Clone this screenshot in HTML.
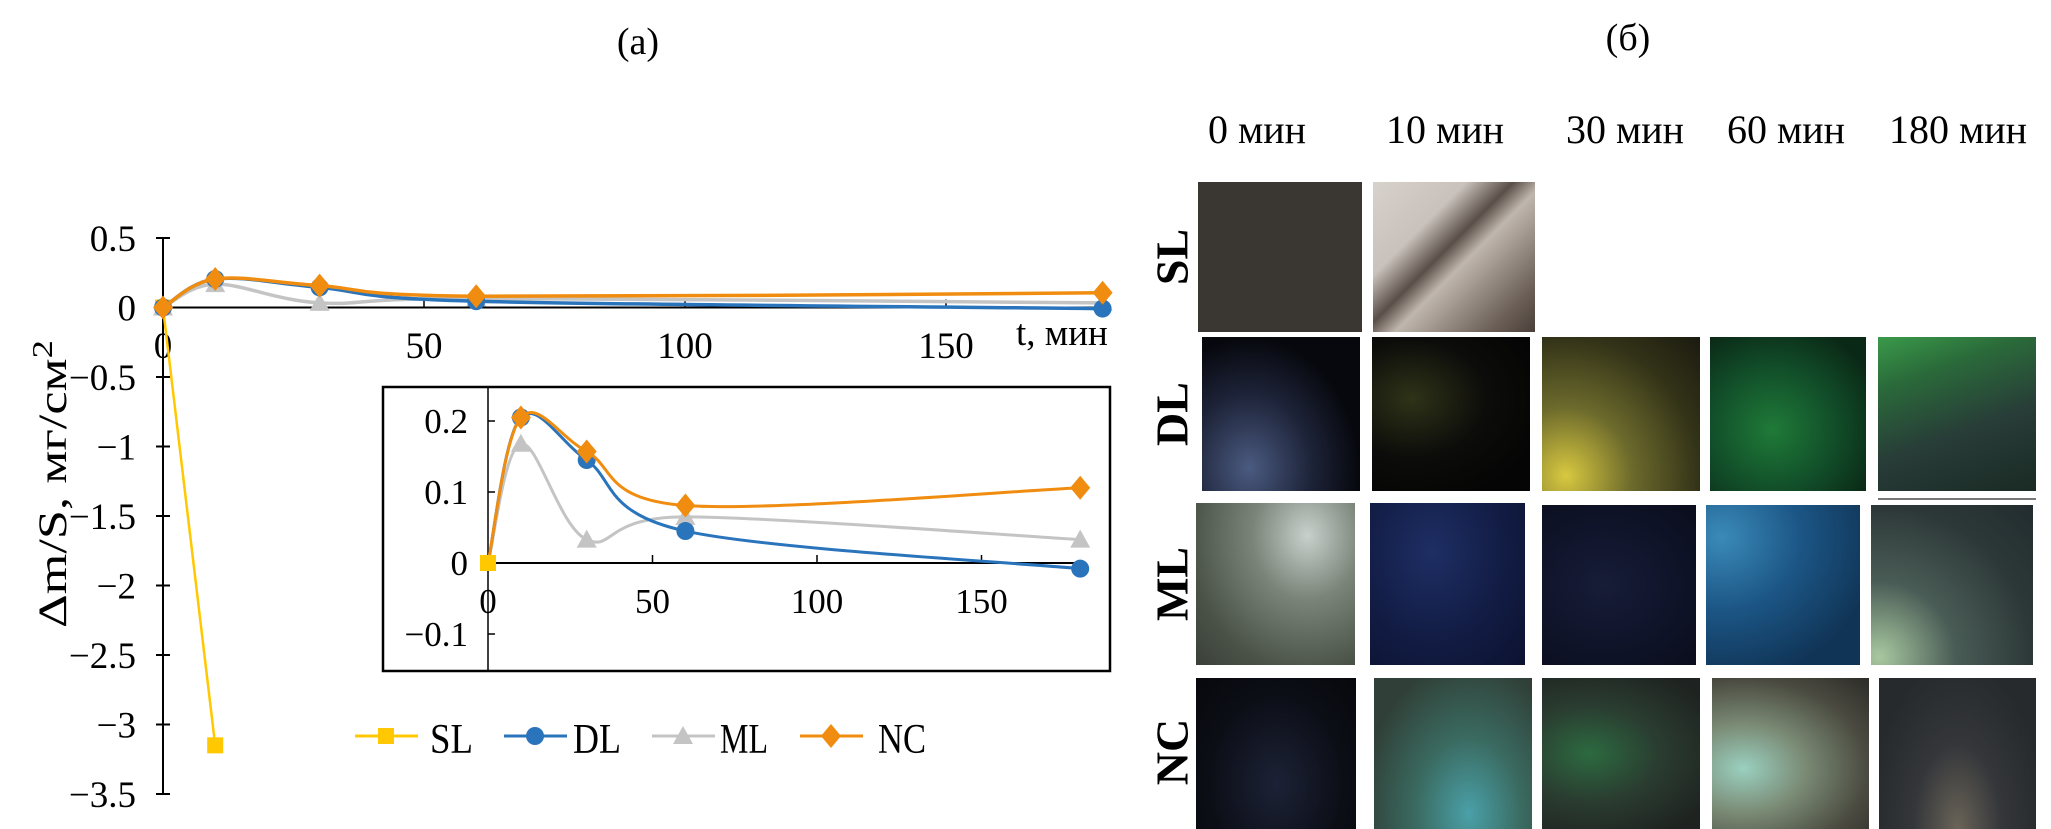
<!DOCTYPE html>
<html><head><meta charset="utf-8">
<style>
html,body{margin:0;padding:0;background:#fff;}
body{width:2051px;height:829px;position:relative;overflow:hidden;font-family:"Liberation Serif","DejaVu Serif",serif;}
.ph{position:absolute;}
.lbl{position:absolute;font-size:40px;color:#000;white-space:nowrap;transform:translateX(-50%);}
.rl{position:absolute;font-size:46px;font-weight:bold;transform:translate(-50%,-50%) rotate(-90deg);}
</style></head><body>
<svg id="chart" width="1150" height="829" style="position:absolute;left:0;top:0" xmlns="http://www.w3.org/2000/svg" font-family="Liberation Serif, serif"></svg>

<div class="lbl" style="left:1628px;top:16px;font-size:38px">(б)</div>
<div class="lbl" style="left:1257px;top:106px">0 мин</div>
<div class="lbl" style="left:1445px;top:106px">10 мин</div>
<div class="lbl" style="left:1625px;top:106px">30 мин</div>
<div class="lbl" style="left:1786px;top:106px">60 мин</div>
<div class="lbl" style="left:1958px;top:106px">180 мин</div>

<div class="rl" style="left:1172px;top:257px">SL</div>
<div class="rl" style="left:1172px;top:414px">DL</div>
<div class="rl" style="left:1172px;top:584px">ML</div>
<div class="rl" style="left:1172px;top:752px">NC</div>

<div class="ph" style="left:1198px;top:182px;width:164px;height:150px;background:#3a3733"></div>
<div class="ph" style="left:1373px;top:182px;width:162px;height:150px;background:linear-gradient(135deg,#d8d2cc 0%,#c9c1bb 30%,#5a4f48 45%,#bfb6ae 55%,#6b5f57 85%,#4a3f39 100%)"></div>

<div class="ph" style="left:1202px;top:337px;width:158px;height:154px;background:radial-gradient(ellipse at 30% 85%,#4a5a80 0%,#1d2338 40%,#07080e 70%)"></div>
<div class="ph" style="left:1372px;top:337px;width:158px;height:154px;background:radial-gradient(ellipse at 25% 40%,#2f3318 0%,#0c0c0a 45%,#050505 80%)"></div>
<div class="ph" style="left:1542px;top:337px;width:158px;height:154px;background:radial-gradient(ellipse at 15% 90%,#d8c840 0%,#6c6a2c 35%,#333318 70%,#1b1a10 100%)"></div>
<div class="ph" style="left:1710px;top:337px;width:156px;height:154px;background:radial-gradient(ellipse at 40% 60%,#1f7a38 0%,#12502a 45%,#0a2816 85%)"></div>
<div class="ph" style="left:1878px;top:337px;width:158px;height:154px;background:linear-gradient(160deg,#3a9a4a 0%,#2a6a3a 25%,#283c38 60%,#1a2a24 100%)"></div>
<div class="ph" style="left:1878px;top:498px;width:158px;height:2px;background:#777"></div>

<div class="ph" style="left:1196px;top:503px;width:159px;height:162px;background:radial-gradient(ellipse at 70% 20%,#c8d0cc 0%,#7a8478 35%,#4a5248 75%,#3a4038 100%)"></div>
<div class="ph" style="left:1370px;top:503px;width:155px;height:162px;background:radial-gradient(ellipse at 40% 30%,#1e2e64 0%,#121c44 55%,#0c1230 100%)"></div>
<div class="ph" style="left:1542px;top:505px;width:154px;height:160px;background:radial-gradient(ellipse at 40% 50%,#171c38 0%,#0f1328 60%,#0a0d1c 100%)"></div>
<div class="ph" style="left:1706px;top:505px;width:154px;height:160px;background:radial-gradient(ellipse at 10% 20%,#3a8ab8 0%,#1c5686 40%,#103456 80%)"></div>
<div class="ph" style="left:1871px;top:505px;width:162px;height:160px;background:radial-gradient(ellipse at 5% 95%,#a8c8a0 0%,#4a5c56 35%,#2c3838 70%,#222c2e 100%)"></div>

<div class="ph" style="left:1196px;top:678px;width:160px;height:151px;background:radial-gradient(ellipse at 50% 70%,#1c2236 0%,#0c0e16 60%,#07080c 100%)"></div>
<div class="ph" style="left:1374px;top:678px;width:158px;height:151px;background:radial-gradient(ellipse at 60% 90%,#4aa0a8 0%,#3a6a60 40%,#304038 80%)"></div>
<div class="ph" style="left:1542px;top:678px;width:158px;height:151px;background:radial-gradient(ellipse at 30% 50%,#2c6a40 0%,#2a3c30 45%,#1e2220 90%)"></div>
<div class="ph" style="left:1712px;top:678px;width:157px;height:151px;background:radial-gradient(ellipse at 20% 60%,#9ad0c0 0%,#7a8a74 35%,#4a4a40 70%,#2c2c28 100%)"></div>
<div class="ph" style="left:1879px;top:678px;width:157px;height:151px;background:radial-gradient(ellipse at 50% 100%,#6a6458 0%,#34363a 40%,#262a2c 80%)"></div>

<script>
const times = [0, 10, 30, 60, 180];
const slTimes = [0, 10];
const slValues = [0, -3.15];
const dlValues = [0, 0.205, 0.145, 0.045, -0.008];
const mlValues = [0, 0.168, 0.033, 0.065, 0.033];
const ncValues = [0, 0.205, 0.157, 0.081, 0.106];
const mainYTicks = [0.5, 0, -0.5, -1, -1.5, -2, -2.5, -3, -3.5];
const mainYTickLabels = ["0.5","0","−0.5","−1","−1.5","−2","−2.5","−3","−3.5"];
const xTicks = [0, 50, 100, 150];
const insetYTicks = [0.2, 0.1, 0, -0.1];
const insetYTickLabels = ["0.2","0.1","0","−0.1"];

const svg = document.getElementById('chart');
const NS = 'http://www.w3.org/2000/svg';
function mk(tag, attrs, parent){const e=document.createElementNS(NS,tag);for(const k in attrs)e.setAttribute(k,attrs[k]);(parent||svg).appendChild(e);return e;}

const mx = t => 163 + t * 5.22;
const my = v => 307.5 - v * 139;
const ix = t => 488 + t * 3.29;
const iy = v => 563 - v * 710;

function smooth(pts){
  let d = 'M' + pts[0][0] + ',' + pts[0][1];
  for(let i=0;i<pts.length-1;i++){
    const p0=pts[i-1]||pts[i], p1=pts[i], p2=pts[i+1], p3=pts[i+2]||pts[i+1];
    const c1=[p1[0]+(p2[0]-p0[0])/6, p1[1]+(p2[1]-p0[1])/6];
    const c2=[p2[0]-(p3[0]-p1[0])/6, p2[1]-(p3[1]-p1[1])/6];
    d += ' C'+c1+' '+c2+' '+p2;
  }
  return d;
}
function marker(kind, x, y, color, parent, name){
  let e;
  if(kind==='square') e=mk('rect',{x:x-8,y:y-8,width:16,height:16,fill:color},parent);
  else if(kind==='circle') e=mk('circle',{cx:x,cy:y,r:9,fill:color},parent);
  else if(kind==='triangle') e=mk('polygon',{points:`${x},${y-10} ${x+10},${y+8} ${x-10},${y+8}`,fill:color},parent);
  else e=mk('polygon',{points:`${x},${y-12} ${x+10},${y} ${x},${y+12} ${x-10},${y}`,fill:color},parent);
  
  
  return e;
}

const ttl = mk('text',{x:638,y:54,'font-size':38,'text-anchor':'middle'}); ttl.textContent='(a)';



const ya = mk('line',{x1:163,y1:my(0.5),x2:163,y2:my(-3.5),stroke:'#000','stroke-width':2});


mainYTicks.forEach((v,i)=>{
  mk('line',{x1:156,y1:my(v),x2:170,y2:my(v),stroke:'#000','stroke-width':2});
  const t = mk('text',{x:136,y:my(v)+13,'font-size':37,'text-anchor':'end'});
  t.textContent = mainYTickLabels[i];
  
  
});
const xa = mk('line',{x1:163,y1:my(0),x2:1108,y2:my(0),stroke:'#000','stroke-width':2});


xTicks.forEach(t=>{
  mk('line',{x1:mx(t),y1:my(0)-8,x2:mx(t),y2:my(0),stroke:'#000','stroke-width':1.5});
  const l = mk('text',{x:mx(t),y:358,'font-size':37,'text-anchor':'middle'});
  l.textContent = t;
  
  
});
const xt = mk('text',{x:1016,y:345,'font-size':37}); xt.textContent='t, мин';


const yt = mk('text',{x:0,y:0,'font-size':40,'text-anchor':'middle',transform:'translate(66,484) rotate(-90)',textLength:288,lengthAdjust:'spacingAndGlyphs'});
yt.innerHTML = 'Δm/S, мг/см<tspan dy="-14" font-size="28">2</tspan>';



const series = [
  {name:'sl', t:slTimes, v:slValues, color:'#ffc800', kind:'square'},
  {name:'ml', t:times, v:mlValues, color:'#c4c4c4', kind:'triangle'},
  {name:'dl', t:times, v:dlValues, color:'#2a74bc', kind:'circle'},
  {name:'nc', t:times, v:ncValues, color:'#f08c10', kind:'diamond'}
];
series.forEach(s=>{
  const pts = s.t.map((t,i)=>[mx(t),my(s.v[i])]);
  const p = mk('path',{d: s.name==='sl' ? 'M'+pts.join(' L') : smooth(pts), fill:'none', stroke:s.color,'stroke-width':s.name==='sl'?2.5:3.5});
  
  
  pts.forEach(q=>marker(s.kind,q[0],q[1],s.color,svg,'main-point-'+s.name));
});

// inset
const box = mk('rect',{x:383,y:387,width:727,height:284,fill:'#fff',stroke:'#000','stroke-width':2.5});


const iya = mk('line',{x1:488,y1:387,x2:488,y2:671,stroke:'#000','stroke-width':1.5});


insetYTicks.forEach((v,i)=>{
  mk('line',{x1:488,y1:iy(v),x2:495,y2:iy(v),stroke:'#000','stroke-width':1.5});
  const t = mk('text',{x:468,y:iy(v)+12,'font-size':35,'text-anchor':'end'});
  t.textContent = insetYTickLabels[i];
  
  
});
const ixa = mk('line',{x1:488,y1:iy(0),x2:1085,y2:iy(0),stroke:'#000','stroke-width':2});


xTicks.forEach(t=>{
  mk('line',{x1:ix(t),y1:iy(0)-8,x2:ix(t),y2:iy(0),stroke:'#000','stroke-width':1.5});
  const l = mk('text',{x:ix(t),y:613,'font-size':35,'text-anchor':'middle'});
  l.textContent = t;
  
  
});
series.filter(s=>s.name!=='sl').forEach(s=>{
  const pts = s.t.map((t,i)=>[ix(t),iy(s.v[i])]);
  const p = mk('path',{d:smooth(pts),fill:'none',stroke:s.color,'stroke-width':3});
  
  
  pts.slice(1).forEach(q=>marker(s.kind,q[0],q[1],s.color,svg,'inset-point-'+s.name));
});
marker('square', ix(slTimes[0]), iy(slValues[0]), '#ffc800', svg, 'inset-point-sl');

// legend
const legend = [['SL',355,'#ffc800','square',430],['DL',504,'#2a74bc','circle',573],['ML',652,'#c4c4c4','triangle',720],['NC',800,'#f08c10','diamond',878]];
legend.forEach(l=>{
  const g = mk('g',{});
  
  
  mk('line',{x1:l[1],y1:736,x2:l[1]+63,y2:736,stroke:l[2],'stroke-width':3},g);
  marker(l[3],l[1]+31,736,l[2],g,'legend-marker');
  const t = mk('text',{x:l[4],y:753,'font-size':42,textLength:l[0]==='SL'?43:48,lengthAdjust:'spacingAndGlyphs'},g);
  t.textContent = l[0];
});
</script>
</body></html>
